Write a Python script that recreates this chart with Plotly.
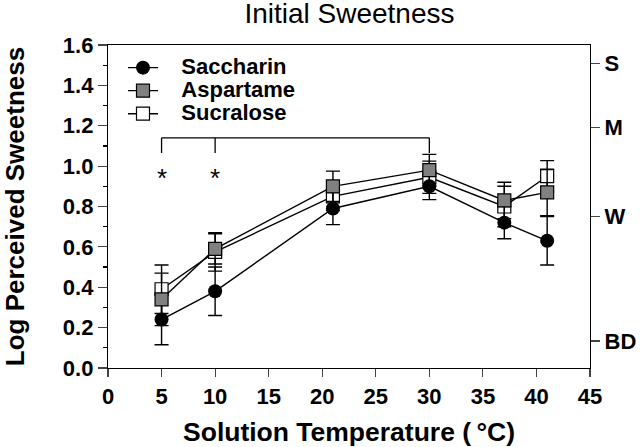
import plotly.graph_objects as go

# ---- data ----
temps = [5, 10, 21, 30, 37, 41]
saccharin = [0.24, 0.38, 0.79, 0.90, 0.72, 0.63]
saccharin_err = [0.125, 0.12, 0.08, 0.066, 0.08, 0.12]
aspartame = [0.34, 0.59, 0.90, 0.98, 0.83, 0.87]
aspartame_err = [0.13, 0.075, 0.075, 0.078, 0.09, 0.115]
sucralose = [0.39, 0.575, 0.85, 0.945, 0.80, 0.95]
sucralose_err = [0.12, 0.095, 0.07, 0.08, 0.10, 0.077]

x_ticks = [0, 5, 10, 15, 20, 25, 30, 35, 40, 45]
y_ticks = [0.0, 0.2, 0.4, 0.6, 0.8, 1.0, 1.2, 1.4, 1.6]
y_ticklabels = ["0.0", "0.2", "0.4", "0.6", "0.8", "1.0", "1.2", "1.4", "1.6"]
lms_vals = [0.134, 0.752, 1.19, 1.509]
lms_labels = ["BD", "W", "M", "S"]

bracket_x = [5, 10, 30]
bracket_top = 1.14
bracket_bottom = 1.065
star_x = [5, 10]
star_y = 0.94

FONT = "Liberation Sans, Arial, sans-serif"
NB = "\u00a0"

def leg(name):
    return f"<span style='font-size:22px'>{NB*3}{name}</span>"

fig = go.Figure()

err_style = dict(type="data", visible=True, color="black", thickness=1.4, width=7)

fig.add_trace(go.Scatter(
    x=temps, y=sucralose, name=leg("Sucralose"), mode="lines+markers",
    line=dict(color="black", width=1.4),
    marker=dict(symbol="square", size=13, color="white", line=dict(color="black", width=1.2)),
    error_y=dict(array=sucralose_err, **err_style), legendrank=3,
))
fig.add_trace(go.Scatter(
    x=temps, y=saccharin, name=leg("Saccharin"), mode="lines+markers",
    line=dict(color="black", width=1.4),
    marker=dict(symbol="circle", size=14, color="black", line=dict(color="black", width=0)),
    error_y=dict(array=saccharin_err, **err_style), legendrank=1,
))
fig.add_trace(go.Scatter(
    x=temps, y=aspartame, name=leg("Aspartame"), mode="lines+markers",
    line=dict(color="black", width=1.4),
    marker=dict(symbol="square", size=13, color="#808080", line=dict(color="black", width=1.2)),
    error_y=dict(array=aspartame_err, **err_style), legendrank=2,
))
fig.add_trace(go.Scatter(x=[None], y=[None], yaxis="y2", showlegend=False, hoverinfo="skip"))

# significance bracket
fig.add_shape(type="line", x0=bracket_x[0], x1=bracket_x[-1], y0=bracket_top, y1=bracket_top,
              line=dict(color="black", width=1.3))
for bx in bracket_x:
    fig.add_shape(type="line", x0=bx, x1=bx, y0=bracket_bottom, y1=bracket_top,
                  line=dict(color="black", width=1.3))
for sx in star_x:
    fig.add_annotation(x=sx, y=star_y, text="*", showarrow=False,
                       font=dict(family=FONT, size=26, color="black"),
                       xanchor="center", yanchor="middle")

tickfont = dict(family=FONT, size=22, color="black", weight="bold")

fig.update_layout(
    width=640, height=447,
    margin=dict(l=108, r=50, t=45, b=79, autoexpand=False),
    paper_bgcolor="white", plot_bgcolor="white",
    title=dict(text="Initial Sweetness", x=0.546, xanchor="center", y=0.971, yanchor="middle",
               font=dict(family=FONT, size=28, color="black")),
    showlegend=True,
    legend=dict(x=0.0311, y=0.981, xanchor="left", yanchor="top",
                font=dict(family=FONT, size=15.4, color="black", weight="bold"),
                bgcolor="rgba(0,0,0,0)", itemwidth=30, tracegroupgap=0),
    xaxis=dict(range=[0, 45], tickvals=x_ticks, ticks="outside", ticklen=8, tickwidth=1.2,
               showline=True, linecolor="black", linewidth=1.2, mirror=True,
               showgrid=False, zeroline=False, tickfont=tickfont,
               title=dict(text="Solution Temperature (\u2009°C)", standoff=17,
                          font=dict(family=FONT, size=26.5, color="black", weight="bold"))),
    yaxis=dict(range=[0, 1.6], tickvals=y_ticks, ticktext=y_ticklabels, ticks="outside",
               ticklen=9, tickwidth=1.2, showline=True, linecolor="black", linewidth=1.2,
               mirror=True, showgrid=False, zeroline=False, tickfont=tickfont,
               minor=dict(dtick=0.1, ticks="outside", ticklen=4, tickwidth=1.2, tickcolor="black",
                          showgrid=False),
               title=dict(text="Log Perceived Sweetness", standoff=34,
                          font=dict(family=FONT, size=26, color="black", weight="bold"))),
    yaxis2=dict(range=[0, 1.6], overlaying="y", side="right", tickvals=lms_vals,
                ticktext=lms_labels, ticks="outside", ticklen=9, tickwidth=1.2,
                showline=True, linecolor="black", linewidth=1.2, showgrid=False,
                zeroline=False, tickfont=dict(family=FONT, size=22, color="black", weight="bold")),
)

fig.write_html("out.html",
               config={"displayModeBar": False, "staticPlot": True},
               post_script="document.body.style.margin='0';document.body.style.overflow='hidden';")
